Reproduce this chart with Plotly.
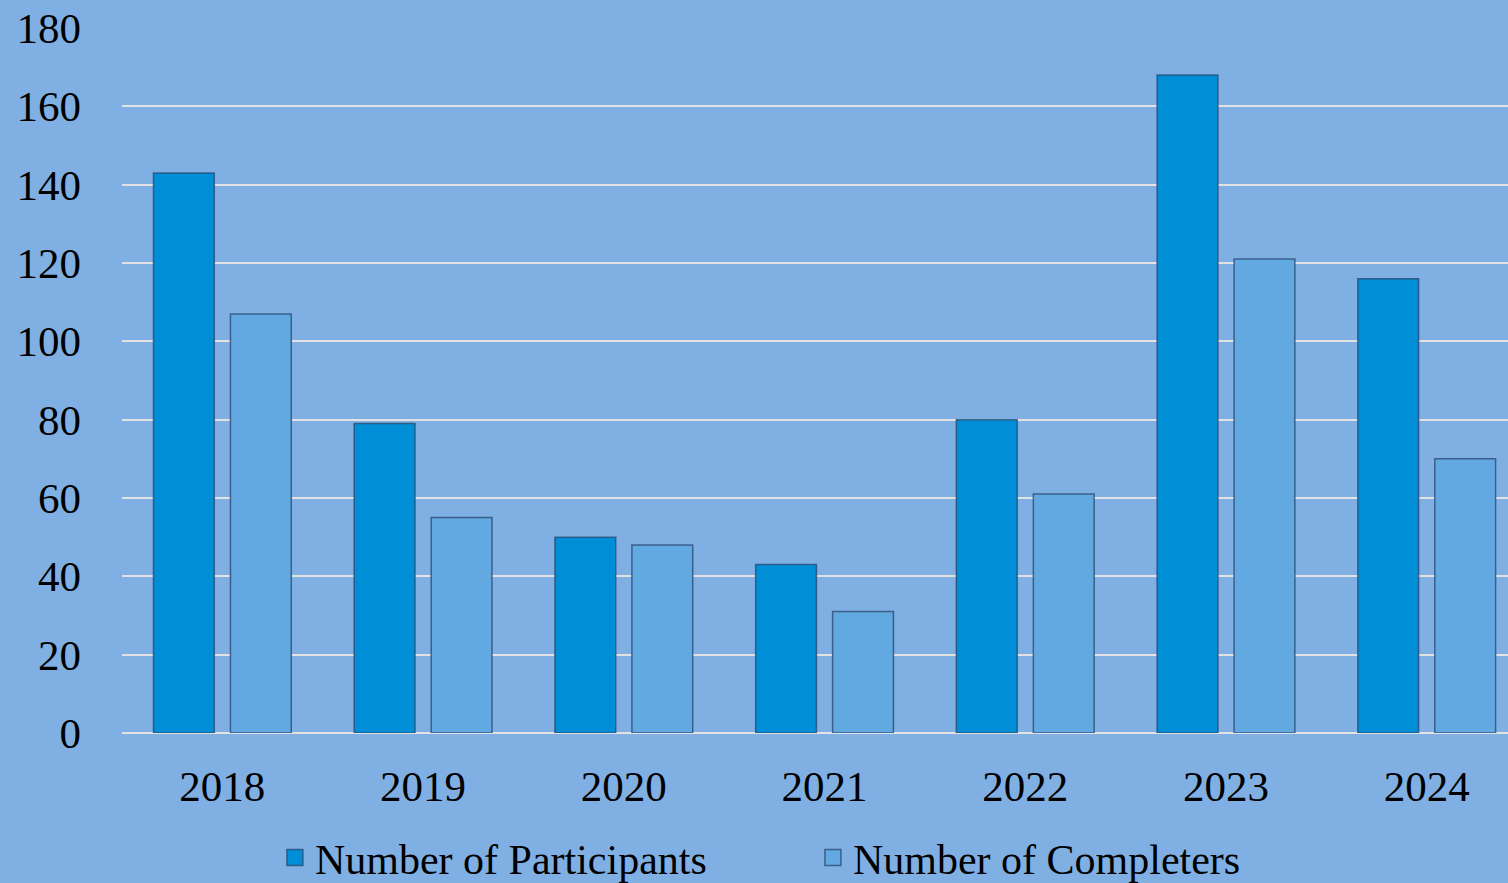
import plotly.graph_objects as go

years = ["2018", "2019", "2020", "2021", "2022", "2023", "2024"]
participants = [143, 79, 50, 43, 80, 168, 116]
completers = [107, 55, 48, 31, 61, 121, 70]
series_names = ["Number of Participants", "Number of Completers"]

BG = "#80B0E3"
FONT = "Liberation Serif, Times New Roman, serif"
C1 = "#008FD6"
C2 = "#62A8E1"
EDGE = "rgba(40,70,110,0.75)"

fig = go.Figure()
fig.add_trace(go.Bar(
    x=years, y=participants, name=series_names[0], showlegend=False,
    marker=dict(color=C1, line=dict(color=EDGE, width=1.5)),
))
fig.add_trace(go.Bar(
    x=years, y=completers, name=series_names[1], showlegend=False,
    marker=dict(color=C2, line=dict(color=EDGE, width=1.5)),
))
# legend entries with larger square swatches
for nm, col in zip(series_names, [C1, C2]):
    fig.add_trace(go.Scatter(
        x=[None], y=[None], mode="markers", name=nm,
        marker=dict(symbol="square", size=24, color=col, line=dict(color=EDGE, width=1.5)),
    ))

fig.update_layout(
    width=1508, height=883,
    paper_bgcolor=BG, plot_bgcolor=BG,
    margin=dict(l=122, r=0, t=28, b=150, autoexpand=False),
    barmode="group", bargap=0.233, bargroupgap=0.21,
    font=dict(family=FONT, size=43, color="black"),
    showlegend=True,
    legend=dict(
        orientation="h", x=0.4985, xanchor="center", y=-0.177, yanchor="middle",
        font=dict(family=FONT, size=42, color="black"),
        bgcolor="rgba(0,0,0,0)", itemsizing="trace", traceorder="normal",
        itemwidth=30, entrywidth=493,
    ),
    xaxis=dict(
        type="category", range=[-0.5, 6.405],
        showgrid=False, showline=False, ticks="",
        tickfont=dict(family=FONT, size=43),
        ticklabelstandoff=24,
    ),
    yaxis=dict(
        range=[0, 180], tickvals=[0, 20, 40, 60, 80, 100, 120, 140, 160, 180],
        showgrid=True, gridcolor="#E2E2E2", gridwidth=2,
        zeroline=True, zerolinecolor="#E2E2E2", zerolinewidth=2,
        showline=False, ticks="",
        tickfont=dict(family=FONT, size=43),
        ticklabelstandoff=40,
    ),
)

fig.write_html("out.html")
